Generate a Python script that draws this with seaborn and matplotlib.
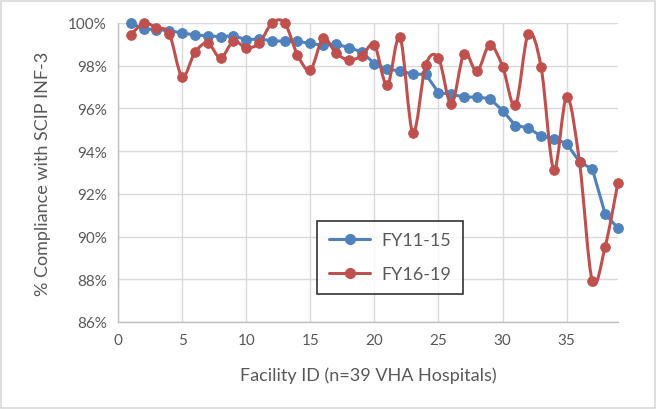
import matplotlib
matplotlib.use('Agg')
import matplotlib.pyplot as plt
from matplotlib.path import Path
from matplotlib.patches import PathPatch, Rectangle
from matplotlib.lines import Line2D
from matplotlib.ticker import FuncFormatter, MultipleLocator
import seaborn as sns
import pandas as pd
import numpy as np

# Data (% compliance per facility)
facility = list(range(1, 40))
fy11_15 = [100.0, 99.72, 99.69, 99.64, 99.53, 99.44, 99.40, 99.36, 99.40, 99.22,
           99.25, 99.17, 99.14, 99.14, 99.04, 98.96, 99.01, 98.85, 98.65, 98.10,
           97.83, 97.76, 97.60, 97.60, 96.74, 96.66, 96.53, 96.53, 96.46, 95.90,
           95.20, 95.09, 94.70, 94.59, 94.35, 93.50, 93.16, 91.06, 90.39]
fy16_19 = [99.44, 99.99, 99.78, 99.48, 97.49, 98.62, 99.06, 98.37, 99.14, 98.85,
           99.04, 99.99, 100.0, 98.51, 97.80, 99.28, 98.59, 98.27, 98.46, 98.96,
           97.08, 99.33, 94.86, 98.02, 98.35, 96.22, 98.57, 97.73, 98.98, 97.96,
           96.14, 99.48, 97.95, 93.13, 96.53, 93.47, 87.90, 89.52, 92.53]
series_names = ['FY11-15', 'FY16-19']

BLUE = '#4F81BD'
RED = '#C0504D'
GREY_TXT = '#595959'

df = pd.DataFrame({'facility': facility, 'FY11-15': fy11_15, 'FY16-19': fy16_19})

sns.set_theme(style='whitegrid')
plt.rcParams['font.family'] = ['Lato', 'DejaVu Sans']


def smooth_path(x, y):
    # Catmull-Rom style bezier through the points (Excel "smoothed line")
    pts = np.column_stack([x, y]).astype(float)
    n = len(pts)
    verts = [pts[0]]
    codes = [Path.MOVETO]
    for i in range(n - 1):
        p0 = pts[max(i - 1, 0)]
        p1 = pts[i]
        p2 = pts[i + 1]
        p3 = pts[min(i + 2, n - 1)]
        verts += [p1 + (p2 - p0) / 6, p2 - (p3 - p1) / 6, p2]
        codes += [Path.CURVE4] * 3
    return Path(verts, codes)


fig = plt.figure(figsize=(6.57, 4.10), dpi=100)
ax = fig.add_axes([0.1796, 0.2122, 0.7610, 0.7293])

sns.lineplot(data=df, x='facility', y='FY11-15', ax=ax, color=BLUE, lw=2.2,
             marker='o', markersize=7, markeredgecolor=BLUE, zorder=3, clip_on=False)

ax.add_patch(PathPatch(smooth_path(df['facility'], df['FY16-19']), fill=False,
                       edgecolor=RED, lw=2.2, zorder=4, clip_on=False))
sns.scatterplot(data=df, x='facility', y='FY16-19', ax=ax, color=RED, s=50,
                edgecolor=RED, linewidth=0.5, zorder=5, clip_on=False)

ax.set_xlim(0, 39)
ax.set_ylim(86, 100)
ax.xaxis.set_major_locator(MultipleLocator(5))
ax.yaxis.set_major_locator(MultipleLocator(2))
ax.yaxis.set_major_formatter(FuncFormatter(lambda v, _: f'{v:.0f}%'))
ax.set_xticks([0, 5, 10, 15, 20, 25, 30, 35])

ax.set_facecolor('white')
ax.grid(True, color='#d9d9d9', lw=1)
for side in ['top', 'right']:
    ax.spines[side].set_visible(False)
for side in ['left', 'bottom']:
    ax.spines[side].set_color('#bfbfbf')
    ax.spines[side].set_linewidth(1)
ax.tick_params(axis='both', length=0, labelsize=11, colors=GREY_TXT, pad=8)

ax.set_xlabel('Facility ID (n=39 VHA Hospitals)', fontsize=13, color=GREY_TXT, labelpad=14)
ax.set_ylabel('% Compliance with SCIP INF-3', fontsize=13, color=GREY_TXT, labelpad=12)

handles = [Line2D([], [], color=BLUE, lw=2.2, marker='o', markersize=7),
           Line2D([], [], color=RED, lw=2.2, marker='o', markersize=7)]
leg = ax.legend(handles, series_names, loc='center', bbox_to_anchor=(0.544, 0.216),
                frameon=True, fancybox=False, fontsize=13, labelspacing=1.0,
                handlelength=2.3, borderpad=0.65, handletextpad=0.6)
leg.get_frame().set_edgecolor('black')
leg.get_frame().set_linewidth(1.2)
for t in leg.get_texts():
    t.set_color(GREY_TXT)

fig.patches.append(Rectangle((0.002, 0.003), 0.995, 0.993, transform=fig.transFigure,
                             fill=False, edgecolor='#d9d9d9', lw=1.2))

fig.savefig('out.png', dpi=100, facecolor='white')
plt.close(fig)
